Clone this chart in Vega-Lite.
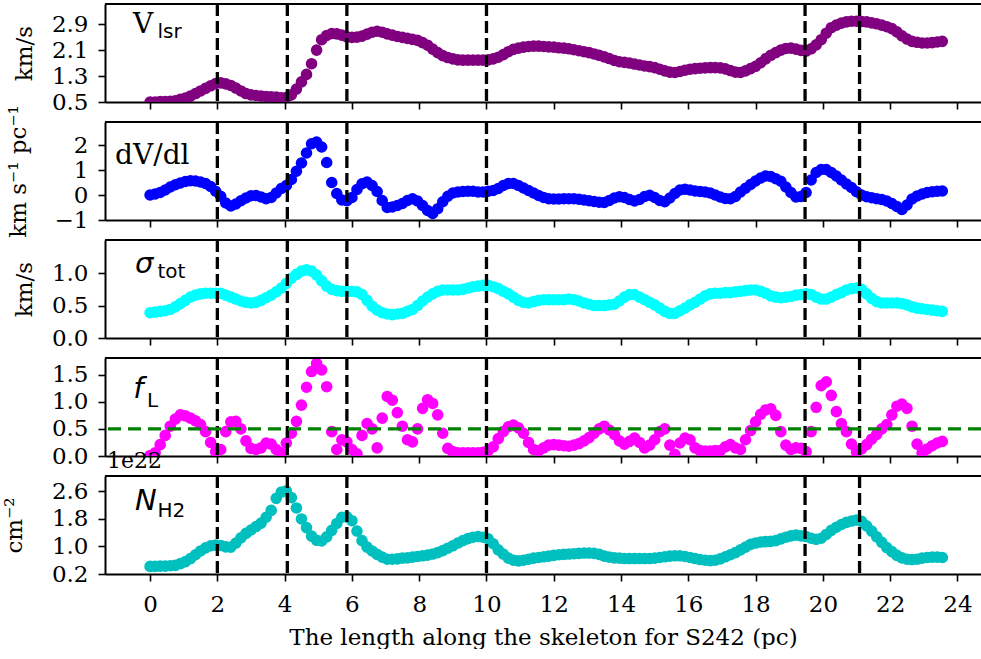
{
"$schema": "https://vega.github.io/schema/vega-lite/v6.json",
"background": "white",
"padding": {"left": 3, "top": 2, "right": 0, "bottom": 0},
"spacing": 20,
"bounds": "flush",
"config": {
 "view": {"stroke": null},
 "font": "DejaVu Serif",
 "axis": {"labelFont": "DejaVu Serif", "labelFontSize": 23, "labelColor": "black", "labelOverlap": false, "titleFont": "DejaVu Serif", "titleFontSize": 23, "titleFontWeight": "normal", "titleColor": "black", "domainColor": "black", "domainWidth": 2, "tickColor": "black", "tickWidth": 1.6, "tickSize": 7, "grid": false, "labelPadding": 10},
 "axisY": {"tickCount": 10}
},
"datasets": {
"vlines": [{"x": 2.0}, {"x": 4.08}, {"x": 5.85}, {"x": 10.0}, {"x": 19.47}, {"x": 21.09}],
"main": [
{"x":0.00,"v":0.50,"g":0.00,"s":0.39,"f":0.01,"n":0.42},
{"x":0.15,"v":0.50,"g":0.04,"s":0.40,"f":0.06,"n":0.42},
{"x":0.30,"v":0.51,"g":0.10,"s":0.41,"f":0.21,"n":0.43},
{"x":0.45,"v":0.51,"g":0.20,"s":0.42,"f":0.38,"n":0.43},
{"x":0.60,"v":0.52,"g":0.32,"s":0.44,"f":0.55,"n":0.44},
{"x":0.75,"v":0.54,"g":0.41,"s":0.48,"f":0.68,"n":0.45},
{"x":0.90,"v":0.58,"g":0.48,"s":0.53,"f":0.76,"n":0.50},
{"x":1.05,"v":0.62,"g":0.54,"s":0.58,"f":0.74,"n":0.56},
{"x":1.20,"v":0.68,"g":0.57,"s":0.63,"f":0.70,"n":0.65},
{"x":1.35,"v":0.76,"g":0.56,"s":0.66,"f":0.65,"n":0.76},
{"x":1.50,"v":0.84,"g":0.52,"s":0.68,"f":0.58,"n":0.87},
{"x":1.65,"v":0.92,"g":0.46,"s":0.69,"f":0.45,"n":0.96},
{"x":1.80,"v":1.00,"g":0.34,"s":0.69,"f":0.25,"n":1.02},
{"x":1.95,"v":1.07,"g":0.15,"s":0.69,"f":0.08,"n":1.04},
{"x":2.10,"v":1.09,"g":-0.05,"s":0.69,"f":0.12,"n":1.03},
{"x":2.25,"v":1.06,"g":-0.32,"s":0.66,"f":0.45,"n":0.99},
{"x":2.40,"v":1.01,"g":-0.44,"s":0.63,"f":0.63,"n":0.98},
{"x":2.55,"v":0.93,"g":-0.36,"s":0.60,"f":0.64,"n":1.10},
{"x":2.70,"v":0.84,"g":-0.23,"s":0.57,"f":0.50,"n":1.25},
{"x":2.85,"v":0.76,"g":-0.12,"s":0.55,"f":0.28,"n":1.38},
{"x":3.00,"v":0.72,"g":-0.03,"s":0.54,"f":0.14,"n":1.48},
{"x":3.15,"v":0.70,"g":-0.02,"s":0.55,"f":0.12,"n":1.58},
{"x":3.30,"v":0.68,"g":-0.08,"s":0.58,"f":0.15,"n":1.68},
{"x":3.45,"v":0.67,"g":-0.15,"s":0.62,"f":0.24,"n":1.85},
{"x":3.60,"v":0.66,"g":-0.10,"s":0.66,"f":0.22,"n":2.05},
{"x":3.75,"v":0.65,"g":0.08,"s":0.71,"f":0.12,"n":2.40},
{"x":3.90,"v":0.63,"g":0.26,"s":0.77,"f":0.06,"n":2.58},
{"x":4.05,"v":0.64,"g":0.38,"s":0.84,"f":0.24,"n":2.62},
{"x":4.20,"v":0.72,"g":0.62,"s":0.92,"f":0.42,"n":2.42},
{"x":4.35,"v":0.90,"g":0.95,"s":0.98,"f":0.64,"n":2.12},
{"x":4.50,"v":1.12,"g":1.28,"s":1.03,"f":0.94,"n":1.80},
{"x":4.65,"v":1.35,"g":1.68,"s":1.05,"f":1.27,"n":1.55},
{"x":4.80,"v":1.68,"g":2.05,"s":1.03,"f":1.56,"n":1.30},
{"x":4.95,"v":2.10,"g":2.12,"s":0.97,"f":1.71,"n":1.18},
{"x":5.10,"v":2.42,"g":1.92,"s":0.88,"f":1.59,"n":1.16},
{"x":5.25,"v":2.55,"g":1.30,"s":0.80,"f":1.28,"n":1.28},
{"x":5.40,"v":2.61,"g":0.50,"s":0.75,"f":0.45,"n":1.47},
{"x":5.55,"v":2.60,"g":0.06,"s":0.73,"f":0.12,"n":1.67},
{"x":5.70,"v":2.56,"g":-0.20,"s":0.72,"f":0.30,"n":1.85},
{"x":5.85,"v":2.51,"g":-0.23,"s":0.72,"f":0.26,"n":1.86},
{"x":6.00,"v":2.49,"g":-0.10,"s":0.72,"f":0.12,"n":1.75},
{"x":6.15,"v":2.50,"g":0.22,"s":0.71,"f":0.04,"n":1.45},
{"x":6.30,"v":2.53,"g":0.45,"s":0.67,"f":0.38,"n":1.17},
{"x":6.45,"v":2.59,"g":0.52,"s":0.58,"f":0.60,"n":0.98},
{"x":6.60,"v":2.65,"g":0.38,"s":0.49,"f":0.50,"n":0.87},
{"x":6.75,"v":2.68,"g":0.14,"s":0.43,"f":0.15,"n":0.77},
{"x":6.90,"v":2.65,"g":-0.22,"s":0.39,"f":0.70,"n":0.69},
{"x":7.05,"v":2.60,"g":-0.50,"s":0.37,"f":1.10,"n":0.63},
{"x":7.20,"v":2.56,"g":-0.48,"s":0.36,"f":1.03,"n":0.63},
{"x":7.35,"v":2.52,"g":-0.42,"s":0.37,"f":0.80,"n":0.64},
{"x":7.50,"v":2.49,"g":-0.34,"s":0.38,"f":0.55,"n":0.66},
{"x":7.65,"v":2.46,"g":-0.22,"s":0.41,"f":0.30,"n":0.67},
{"x":7.80,"v":2.43,"g":-0.15,"s":0.44,"f":0.26,"n":0.69},
{"x":7.95,"v":2.40,"g":-0.24,"s":0.50,"f":0.50,"n":0.71},
{"x":8.10,"v":2.33,"g":-0.42,"s":0.57,"f":0.88,"n":0.73},
{"x":8.25,"v":2.25,"g":-0.62,"s":0.63,"f":1.04,"n":0.75},
{"x":8.40,"v":2.13,"g":-0.74,"s":0.68,"f":0.97,"n":0.78},
{"x":8.55,"v":2.02,"g":-0.55,"s":0.72,"f":0.76,"n":0.82},
{"x":8.70,"v":1.93,"g":-0.27,"s":0.74,"f":0.42,"n":0.88},
{"x":8.85,"v":1.87,"g":-0.05,"s":0.74,"f":0.14,"n":0.95},
{"x":9.00,"v":1.83,"g":0.08,"s":0.74,"f":0.08,"n":1.02},
{"x":9.15,"v":1.80,"g":0.12,"s":0.74,"f":0.06,"n":1.10},
{"x":9.30,"v":1.79,"g":0.14,"s":0.75,"f":0.06,"n":1.17},
{"x":9.45,"v":1.79,"g":0.15,"s":0.77,"f":0.06,"n":1.23},
{"x":9.60,"v":1.79,"g":0.15,"s":0.79,"f":0.06,"n":1.27},
{"x":9.75,"v":1.79,"g":0.12,"s":0.80,"f":0.06,"n":1.29},
{"x":9.90,"v":1.79,"g":0.12,"s":0.81,"f":0.07,"n":1.27},
{"x":10.05,"v":1.80,"g":0.15,"s":0.81,"f":0.10,"n":1.22},
{"x":10.20,"v":1.83,"g":0.18,"s":0.79,"f":0.17,"n":1.08},
{"x":10.35,"v":1.88,"g":0.26,"s":0.76,"f":0.32,"n":0.90},
{"x":10.50,"v":1.96,"g":0.38,"s":0.72,"f":0.45,"n":0.78},
{"x":10.65,"v":2.05,"g":0.46,"s":0.68,"f":0.54,"n":0.66},
{"x":10.80,"v":2.12,"g":0.46,"s":0.63,"f":0.57,"n":0.60},
{"x":10.95,"v":2.16,"g":0.38,"s":0.58,"f":0.52,"n":0.58},
{"x":11.10,"v":2.19,"g":0.28,"s":0.55,"f":0.42,"n":0.60},
{"x":11.25,"v":2.21,"g":0.18,"s":0.54,"f":0.25,"n":0.63},
{"x":11.40,"v":2.22,"g":0.08,"s":0.56,"f":0.12,"n":0.66},
{"x":11.55,"v":2.22,"g":-0.02,"s":0.58,"f":0.10,"n":0.68},
{"x":11.70,"v":2.21,"g":-0.10,"s":0.59,"f":0.15,"n":0.70},
{"x":11.85,"v":2.20,"g":-0.15,"s":0.59,"f":0.20,"n":0.72},
{"x":12.00,"v":2.19,"g":-0.16,"s":0.59,"f":0.21,"n":0.74},
{"x":12.15,"v":2.17,"g":-0.16,"s":0.59,"f":0.20,"n":0.76},
{"x":12.30,"v":2.16,"g":-0.15,"s":0.59,"f":0.19,"n":0.77},
{"x":12.45,"v":2.14,"g":-0.15,"s":0.60,"f":0.18,"n":0.78},
{"x":12.60,"v":2.11,"g":-0.15,"s":0.59,"f":0.20,"n":0.79},
{"x":12.75,"v":2.08,"g":-0.17,"s":0.57,"f":0.23,"n":0.80},
{"x":12.90,"v":2.05,"g":-0.20,"s":0.54,"f":0.28,"n":0.81},
{"x":13.05,"v":2.02,"g":-0.23,"s":0.52,"f":0.34,"n":0.81},
{"x":13.20,"v":1.98,"g":-0.26,"s":0.50,"f":0.42,"n":0.80},
{"x":13.35,"v":1.94,"g":-0.29,"s":0.50,"f":0.50,"n":0.77},
{"x":13.50,"v":1.89,"g":-0.30,"s":0.50,"f":0.55,"n":0.72},
{"x":13.65,"v":1.84,"g":-0.22,"s":0.51,"f":0.48,"n":0.69},
{"x":13.80,"v":1.78,"g":-0.12,"s":0.52,"f":0.40,"n":0.67},
{"x":13.95,"v":1.74,"g":-0.07,"s":0.57,"f":0.28,"n":0.66},
{"x":14.10,"v":1.72,"g":-0.10,"s":0.63,"f":0.22,"n":0.65},
{"x":14.25,"v":1.70,"g":-0.18,"s":0.67,"f":0.27,"n":0.65},
{"x":14.40,"v":1.67,"g":-0.24,"s":0.67,"f":0.33,"n":0.65},
{"x":14.55,"v":1.64,"g":-0.18,"s":0.63,"f":0.25,"n":0.65},
{"x":14.70,"v":1.61,"g":-0.06,"s":0.59,"f":0.15,"n":0.65},
{"x":14.85,"v":1.59,"g":-0.01,"s":0.55,"f":0.20,"n":0.65},
{"x":15.00,"v":1.56,"g":-0.10,"s":0.51,"f":0.30,"n":0.66},
{"x":15.15,"v":1.51,"g":-0.22,"s":0.46,"f":0.45,"n":0.68},
{"x":15.30,"v":1.46,"g":-0.27,"s":0.41,"f":0.50,"n":0.70},
{"x":15.45,"v":1.42,"g":-0.12,"s":0.38,"f":0.20,"n":0.72},
{"x":15.60,"v":1.41,"g":0.06,"s":0.38,"f":0.03,"n":0.73},
{"x":15.75,"v":1.44,"g":0.20,"s":0.42,"f":0.24,"n":0.73},
{"x":15.90,"v":1.48,"g":0.23,"s":0.46,"f":0.33,"n":0.71},
{"x":16.05,"v":1.51,"g":0.20,"s":0.51,"f":0.30,"n":0.68},
{"x":16.20,"v":1.53,"g":0.16,"s":0.55,"f":0.15,"n":0.65},
{"x":16.35,"v":1.54,"g":0.14,"s":0.60,"f":0.10,"n":0.62},
{"x":16.50,"v":1.55,"g":0.12,"s":0.65,"f":0.09,"n":0.60},
{"x":16.65,"v":1.56,"g":0.08,"s":0.68,"f":0.09,"n":0.59},
{"x":16.80,"v":1.56,"g":0.00,"s":0.69,"f":0.10,"n":0.60},
{"x":16.95,"v":1.55,"g":-0.08,"s":0.69,"f":0.10,"n":0.64},
{"x":17.10,"v":1.52,"g":-0.14,"s":0.70,"f":0.17,"n":0.70},
{"x":17.25,"v":1.47,"g":-0.15,"s":0.70,"f":0.21,"n":0.76},
{"x":17.40,"v":1.42,"g":-0.06,"s":0.71,"f":0.15,"n":0.82},
{"x":17.55,"v":1.41,"g":0.12,"s":0.72,"f":0.12,"n":0.90},
{"x":17.70,"v":1.46,"g":0.27,"s":0.73,"f":0.30,"n":0.98},
{"x":17.85,"v":1.53,"g":0.42,"s":0.74,"f":0.47,"n":1.06},
{"x":18.00,"v":1.60,"g":0.56,"s":0.74,"f":0.63,"n":1.10},
{"x":18.15,"v":1.71,"g":0.68,"s":0.72,"f":0.77,"n":1.13},
{"x":18.30,"v":1.83,"g":0.76,"s":0.69,"f":0.85,"n":1.14},
{"x":18.45,"v":1.94,"g":0.74,"s":0.65,"f":0.87,"n":1.15},
{"x":18.60,"v":2.02,"g":0.65,"s":0.63,"f":0.75,"n":1.17},
{"x":18.75,"v":2.10,"g":0.55,"s":0.62,"f":0.45,"n":1.22},
{"x":18.90,"v":2.15,"g":0.32,"s":0.63,"f":0.20,"n":1.27},
{"x":19.05,"v":2.16,"g":0.10,"s":0.64,"f":0.12,"n":1.31},
{"x":19.20,"v":2.13,"g":-0.08,"s":0.66,"f":0.15,"n":1.33},
{"x":19.35,"v":2.09,"g":-0.06,"s":0.67,"f":0.14,"n":1.31},
{"x":19.50,"v":2.07,"g":0.10,"s":0.68,"f":0.08,"n":1.29},
{"x":19.65,"v":2.14,"g":0.60,"s":0.67,"f":0.45,"n":1.24},
{"x":19.80,"v":2.26,"g":0.90,"s":0.63,"f":0.90,"n":1.21},
{"x":19.95,"v":2.42,"g":1.02,"s":0.60,"f":1.30,"n":1.24},
{"x":20.10,"v":2.62,"g":1.02,"s":0.60,"f":1.37,"n":1.35},
{"x":20.25,"v":2.79,"g":0.90,"s":0.63,"f":1.12,"n":1.47},
{"x":20.40,"v":2.87,"g":0.76,"s":0.67,"f":0.82,"n":1.56},
{"x":20.55,"v":2.93,"g":0.60,"s":0.70,"f":0.60,"n":1.64},
{"x":20.70,"v":2.97,"g":0.44,"s":0.74,"f":0.45,"n":1.70},
{"x":20.85,"v":2.99,"g":0.30,"s":0.76,"f":0.22,"n":1.74},
{"x":21.00,"v":2.99,"g":0.13,"s":0.77,"f":0.07,"n":1.77},
{"x":21.15,"v":2.98,"g":0.00,"s":0.75,"f":0.13,"n":1.73},
{"x":21.30,"v":2.97,"g":-0.07,"s":0.68,"f":0.21,"n":1.60},
{"x":21.45,"v":2.94,"g":-0.11,"s":0.61,"f":0.31,"n":1.45},
{"x":21.60,"v":2.91,"g":-0.15,"s":0.56,"f":0.40,"n":1.28},
{"x":21.75,"v":2.87,"g":-0.18,"s":0.54,"f":0.50,"n":1.12},
{"x":21.90,"v":2.82,"g":-0.24,"s":0.54,"f":0.58,"n":0.97},
{"x":22.05,"v":2.76,"g":-0.34,"s":0.54,"f":0.76,"n":0.85},
{"x":22.20,"v":2.66,"g":-0.46,"s":0.54,"f":0.92,"n":0.74},
{"x":22.35,"v":2.54,"g":-0.58,"s":0.53,"f":0.96,"n":0.67},
{"x":22.50,"v":2.44,"g":-0.40,"s":0.51,"f":0.88,"n":0.63},
{"x":22.65,"v":2.37,"g":-0.16,"s":0.48,"f":0.55,"n":0.62},
{"x":22.80,"v":2.34,"g":-0.04,"s":0.46,"f":0.22,"n":0.63},
{"x":22.95,"v":2.32,"g":0.04,"s":0.45,"f":0.06,"n":0.66},
{"x":23.10,"v":2.32,"g":0.10,"s":0.44,"f":0.13,"n":0.68},
{"x":23.25,"v":2.33,"g":0.13,"s":0.43,"f":0.19,"n":0.69},
{"x":23.40,"v":2.35,"g":0.15,"s":0.42,"f":0.24,"n":0.69},
{"x":23.55,"v":2.37,"g":0.16,"s":0.41,"f":0.27,"n":0.68}
]
},
"vconcat": [
{
 "width": 876, "height": 98,
 "layer": [
  {"data": {"name": "main"}, "mark": {"type": "point", "filled": true, "shape": "circle", "size": 135, "opacity": 1, "strokeWidth": 0, "color": "#800080", "clip": true},
   "encoding": {
    "x": {"field": "x", "type": "quantitative", "scale": {"domain": [-1.34, 24.7], "nice": false, "zero": false}, "axis": {"values": [0,2,4,6,8,10,12,14,16,18,20,22,24], "labels": false, "title": null}},
    "y": {"field": "v", "type": "quantitative", "scale": {"domain": [0.5, 3.52], "nice": false, "zero": false}, "axis": {"values": [0.5,1.3,2.1,2.9], "tickCount": 10, "format": ".1f", "labelOverlap": false, "title": "km/s", "titleX": -74, "titleBaseline": "alphabetic"}}}},
  {"data": {"name": "vlines"}, "mark": {"type": "rule", "color": "black", "strokeWidth": 3.3, "strokeDash": [12, 5]},
   "encoding": {"x": {"field": "x", "type": "quantitative"}}},
  {"data": {"values": [{"t": "V"}]}, "mark": {"type": "text", "font": "DejaVu Serif", "fontSize": 28, "align": "left", "baseline": "alphabetic", "color": "black"},
   "encoding": {"x": {"datum": -0.51, "type": "quantitative"}, "y": {"datum": 2.62, "type": "quantitative"}, "text": {"field": "t"}}},
  {"data": {"values": [{"t": "lsr"}]}, "mark": {"type": "text", "font": "DejaVu Sans", "fontSize": 20, "align": "left", "baseline": "alphabetic", "color": "black"},
   "encoding": {"x": {"datum": 0.22, "type": "quantitative"}, "y": {"datum": 2.46, "type": "quantitative"}, "text": {"field": "t"}}},
  {"data": {"values": [{}]}, "mark": {"type": "rule", "color": "black", "strokeWidth": 2},
   "encoding": {"y": {"datum": 3.52, "type": "quantitative"}}}
 ]
},
{
 "width": 876, "height": 98,
 "layer": [
  {"data": {"name": "main"}, "mark": {"type": "point", "filled": true, "shape": "circle", "size": 135, "opacity": 1, "strokeWidth": 0, "color": "#0000ff", "clip": true},
   "encoding": {
    "x": {"field": "x", "type": "quantitative", "scale": {"domain": [-1.34, 24.7], "nice": false, "zero": false}, "axis": {"values": [0,2,4,6,8,10,12,14,16,18,20,22,24], "labels": false, "title": null}},
    "y": {"field": "g", "type": "quantitative", "scale": {"domain": [-1, 2.92], "nice": false, "zero": false}, "axis": {"values": [-1,0,1,2], "tickCount": 10, "format": "d", "labelOverlap": false, "title": "km s⁻¹ pc⁻¹", "titleX": -80, "titleBaseline": "alphabetic"}}}},
  {"data": {"name": "vlines"}, "mark": {"type": "rule", "color": "black", "strokeWidth": 3.3, "strokeDash": [12, 5]},
   "encoding": {"x": {"field": "x", "type": "quantitative"}}},
  {"data": {"values": [{"t": "dV/dl"}]}, "mark": {"type": "text", "font": "DejaVu Serif", "fontSize": 28, "align": "left", "baseline": "alphabetic", "color": "black"},
   "encoding": {"x": {"datum": -1.04, "type": "quantitative"}, "y": {"datum": 1.24, "type": "quantitative"}, "text": {"field": "t"}}},
  {"data": {"values": [{}]}, "mark": {"type": "rule", "color": "black", "strokeWidth": 2},
   "encoding": {"y": {"datum": 2.92, "type": "quantitative"}}}
 ]
},
{
 "width": 876, "height": 98,
 "layer": [
  {"data": {"name": "main"}, "mark": {"type": "point", "filled": true, "shape": "circle", "size": 135, "opacity": 1, "strokeWidth": 0, "color": "#00ffff", "clip": true},
   "encoding": {
    "x": {"field": "x", "type": "quantitative", "scale": {"domain": [-1.34, 24.7], "nice": false, "zero": false}, "axis": {"values": [0,2,4,6,8,10,12,14,16,18,20,22,24], "labels": false, "title": null}},
    "y": {"field": "s", "type": "quantitative", "scale": {"domain": [0, 1.51], "nice": false, "zero": false}, "axis": {"values": [0,0.5,1.0], "tickCount": 10, "format": ".1f", "labelOverlap": false, "title": "km/s", "titleX": -74, "titleBaseline": "alphabetic"}}}},
  {"data": {"name": "vlines"}, "mark": {"type": "rule", "color": "black", "strokeWidth": 3.3, "strokeDash": [12, 5]},
   "encoding": {"x": {"field": "x", "type": "quantitative"}}},
  {"data": {"values": [{"t": "σ"}]}, "mark": {"type": "text", "font": "DejaVu Sans", "fontStyle": "italic", "fontSize": 29, "align": "left", "baseline": "alphabetic", "color": "black"},
   "encoding": {"x": {"datum": -0.45, "type": "quantitative"}, "y": {"datum": 1.0, "type": "quantitative"}, "text": {"field": "t"}}},
  {"data": {"values": [{"t": "tot"}]}, "mark": {"type": "text", "font": "DejaVu Sans", "fontSize": 20, "align": "left", "baseline": "alphabetic", "color": "black"},
   "encoding": {"x": {"datum": 0.22, "type": "quantitative"}, "y": {"datum": 0.93, "type": "quantitative"}, "text": {"field": "t"}}},
  {"data": {"values": [{}]}, "mark": {"type": "rule", "color": "black", "strokeWidth": 2},
   "encoding": {"y": {"datum": 1.51, "type": "quantitative"}}}
 ]
},
{
 "width": 876, "height": 98,
 "layer": [
  {"data": {"name": "main"}, "mark": {"type": "point", "filled": true, "shape": "circle", "size": 135, "opacity": 1, "strokeWidth": 0, "color": "#ff00ff", "clip": true},
   "encoding": {
    "x": {"field": "x", "type": "quantitative", "scale": {"domain": [-1.34, 24.7], "nice": false, "zero": false}, "axis": {"values": [0,2,4,6,8,10,12,14,16,18,20,22,24], "labels": false, "title": null}},
    "y": {"field": "f", "type": "quantitative", "scale": {"domain": [0, 1.81], "nice": false, "zero": false}, "axis": {"values": [0,0.5,1.0,1.5], "tickCount": 10, "format": ".1f", "labelOverlap": false, "title": null}}}},
  {"data": {"name": "vlines"}, "mark": {"type": "rule", "color": "black", "strokeWidth": 3.3, "strokeDash": [12, 5]},
   "encoding": {"x": {"field": "x", "type": "quantitative"}}},
  {"data": {"values": [{}]}, "mark": {"type": "rule", "color": "#008000", "strokeWidth": 3.3, "strokeDash": [13, 7]},
   "encoding": {"y": {"datum": 0.5, "type": "quantitative"}}},
  {"data": {"values": [{"t": "f"}]}, "mark": {"type": "text", "font": "DejaVu Sans", "fontStyle": "italic", "fontSize": 29, "align": "left", "baseline": "alphabetic", "color": "black"},
   "encoding": {"x": {"datum": -0.5, "type": "quantitative"}, "y": {"datum": 1.07, "type": "quantitative"}, "text": {"field": "t"}}},
  {"data": {"values": [{"t": "L"}]}, "mark": {"type": "text", "font": "DejaVu Sans", "fontSize": 20, "align": "left", "baseline": "alphabetic", "color": "black"},
   "encoding": {"x": {"datum": -0.09, "type": "quantitative"}, "y": {"datum": 0.91, "type": "quantitative"}, "text": {"field": "t"}}},
  {"data": {"values": [{}]}, "mark": {"type": "rule", "color": "black", "strokeWidth": 2},
   "encoding": {"y": {"datum": 1.81, "type": "quantitative"}}}
 ]
},
{
 "width": 876, "height": 98,
 "layer": [
  {"data": {"name": "main"}, "mark": {"type": "point", "filled": true, "shape": "circle", "size": 135, "opacity": 1, "strokeWidth": 0, "color": "#00bfbf", "clip": true},
   "encoding": {
    "x": {"field": "x", "type": "quantitative", "scale": {"domain": [-1.34, 24.7], "nice": false, "zero": false}, "axis": {"values": [0,2,4,6,8,10,12,14,16,18,20,22,24], "labels": true, "title": "The length along the skeleton for S242 (pc)", "labelPadding": 12, "titlePadding": 10}},
    "y": {"field": "n", "type": "quantitative", "scale": {"domain": [0.2, 3.05], "nice": false, "zero": false}, "axis": {"values": [0.2,1.0,1.8,2.6], "tickCount": 10, "format": ".1f", "labelOverlap": false, "title": "cm⁻²", "titleX": -84, "titleBaseline": "alphabetic"}}}},
  {"data": {"name": "vlines"}, "mark": {"type": "rule", "color": "black", "strokeWidth": 3.3, "strokeDash": [12, 5]},
   "encoding": {"x": {"field": "x", "type": "quantitative"}}},
  {"data": {"values": [{"t": "N"}]}, "mark": {"type": "text", "font": "DejaVu Sans", "fontStyle": "italic", "fontSize": 29, "align": "left", "baseline": "alphabetic", "color": "black"},
   "encoding": {"x": {"datum": -0.45, "type": "quantitative"}, "y": {"datum": 2.07, "type": "quantitative"}, "text": {"field": "t"}}},
  {"data": {"values": [{"t": "H2"}]}, "mark": {"type": "text", "font": "DejaVu Sans", "fontSize": 20, "align": "left", "baseline": "alphabetic", "color": "black"},
   "encoding": {"x": {"datum": 0.22, "type": "quantitative"}, "y": {"datum": 1.87, "type": "quantitative"}, "text": {"field": "t"}}},
  {"data": {"values": [{"t": "1e22"}]}, "mark": {"type": "text", "font": "DejaVu Serif", "fontSize": 22, "align": "left", "baseline": "alphabetic", "color": "black"},
   "encoding": {"x": {"datum": -1.28, "type": "quantitative"}, "y": {"datum": 3.28, "type": "quantitative"}, "text": {"field": "t"}}},
  {"data": {"values": [{}]}, "mark": {"type": "rule", "color": "black", "strokeWidth": 2},
   "encoding": {"y": {"datum": 3.05, "type": "quantitative"}}}
 ]
}
]
}
